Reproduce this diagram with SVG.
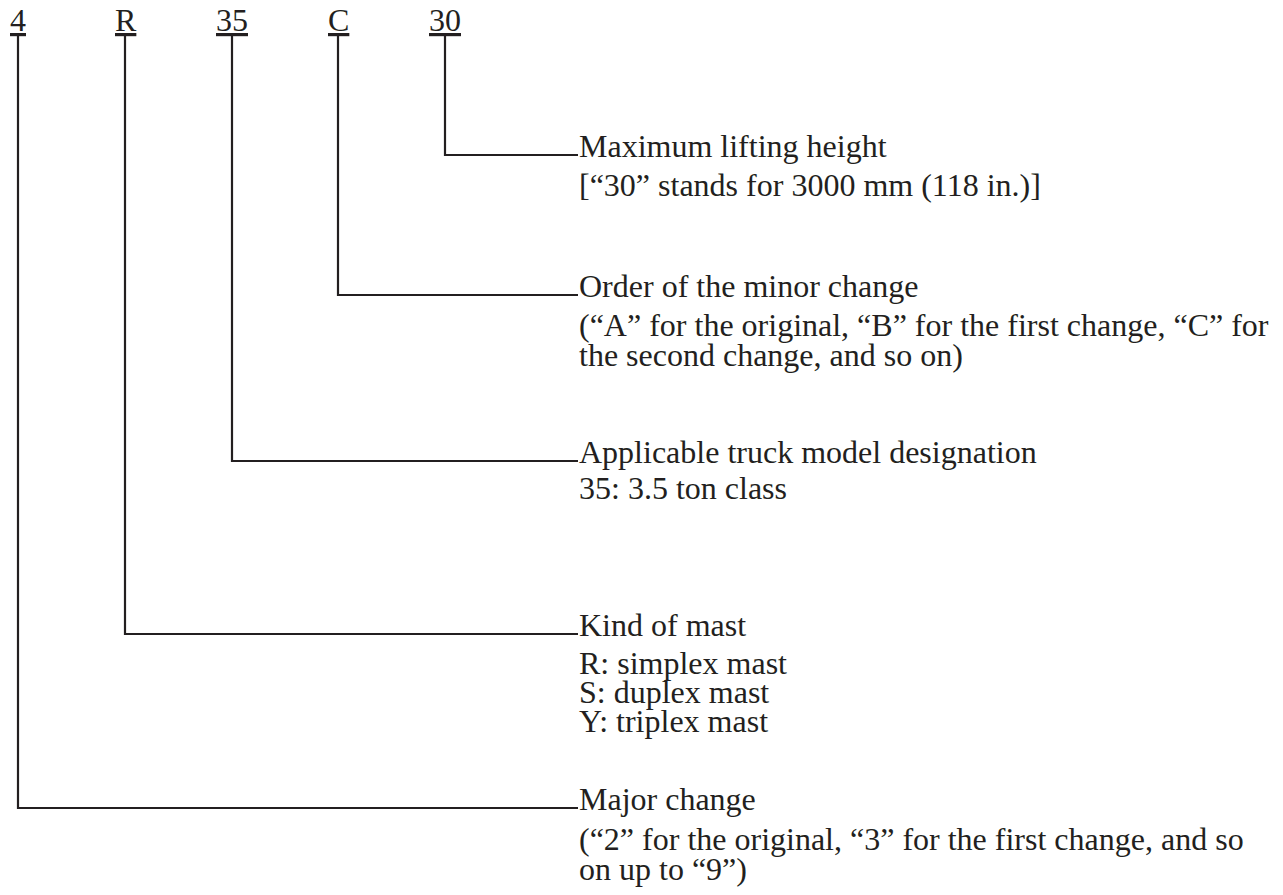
<svg xmlns="http://www.w3.org/2000/svg" width="1283" height="895" viewBox="0 0 1283 895">
<style>
.t{font-family:"Liberation Serif","Times New Roman",serif;font-size:32px;fill:#231f20}
.u{text-decoration:underline}
.c{stroke:#231f20;stroke-width:2.2;fill:none}
</style>
<rect width="1283" height="895" fill="#fff"/>
<g id="connectors">
<polyline class="c" points="445,34 445,155 578,155"/>
<polyline class="c" points="338,34 338,295 578,295"/>
<polyline class="c" points="232,34 232,461 578,461"/>
<polyline class="c" points="125,34 125,634 578,634"/>
<polyline class="c" points="18,34 18,808 578,808"/>
</g>
<g id="label-4"><text class="t u" x="10" y="31">4</text></g>
<g id="label-R"><text class="t u" x="115" y="31">R</text></g>
<g id="label-35"><text class="t u" x="216" y="31">35</text></g>
<g id="label-C"><text class="t u" x="328" y="31">C</text></g>
<g id="label-30"><text class="t u" x="429" y="31">30</text></g>
<g id="desc-30">
<text class="t" x="579" y="157">Maximum lifting height</text>
<text class="t" x="579" y="196">[“30” stands for 3000 mm (118 in.)]</text>
</g>
<g id="desc-C">
<text class="t" x="579" y="297">Order of the minor change</text>
<text class="t" x="579" y="336">(“A” for the original, “B” for the first change, “C” for</text>
<text class="t" x="579" y="366">the second change, and so on)</text>
</g>
<g id="desc-35">
<text class="t" x="579" y="463">Applicable truck model designation</text>
<text class="t" x="579" y="499">35: 3.5 ton class</text>
</g>
<g id="desc-R">
<text class="t" x="579" y="636">Kind of mast</text>
<text class="t" x="579" y="674">R: simplex mast</text>
<text class="t" x="579" y="703">S: duplex mast</text>
<text class="t" x="579" y="732">Y: triplex mast</text>
</g>
<g id="desc-4">
<text class="t" x="579" y="810">Major change</text>
<text class="t" x="579" y="850">(“2” for the original, “3” for the first change, and so</text>
<text class="t" x="579" y="880">on up to “9”)</text>
</g>
</svg>
